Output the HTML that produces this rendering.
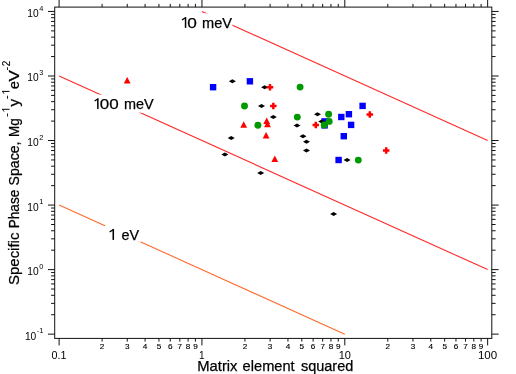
<!DOCTYPE html>
<html><head><meta charset="utf-8"><title>Specific Phase Space vs Matrix element squared</title>
<style>html,body{margin:0;padding:0;background:#fff}body{width:516px;height:374px;overflow:hidden}</style></head>
<body>
<svg width="516" height="374" viewBox="0 0 516 374" style="display:block;font-family:'Liberation Sans',sans-serif;will-change:transform">
<rect width="516" height="374" fill="#fff"/>
<g id="curves">
<line x1="201.95" y1="11.45" x2="487.65" y2="140.53" stroke="#ff2a2a" stroke-width="1.1"/>
<line x1="59.10" y1="75.99" x2="487.65" y2="269.61" stroke="#ff2a2a" stroke-width="1.1"/>
<line x1="59.10" y1="205.07" x2="344.80" y2="334.15" stroke="#ff6a2a" stroke-width="1.1"/>
</g>
<g id="masks" fill="#fff">
<rect x="178" y="13.3" width="54.4" height="18.7"/>
<rect x="91" y="94.6" width="65" height="18.1"/>
<rect x="105" y="225.4" width="36" height="16.4"/>
</g>
<g id="axes" stroke="#111" stroke-width="1" fill="none">
<rect x="54.7" y="7.1" width="437.10" height="331.30"/>
<path d="M59.10 338.4V345.4M59.10 7.1V0M102.10 338.4V341.59999999999997M102.10 7.1V3.8999999999999995M127.26 338.4V341.59999999999997M127.26 7.1V3.8999999999999995M145.10 338.4V341.59999999999997M145.10 7.1V3.8999999999999995M158.95 338.4V341.59999999999997M158.95 7.1V3.8999999999999995M170.26 338.4V341.59999999999997M170.26 7.1V3.8999999999999995M179.82 338.4V341.59999999999997M179.82 7.1V3.8999999999999995M188.11 338.4V341.59999999999997M188.11 7.1V3.8999999999999995M195.41 338.4V341.59999999999997M195.41 7.1V3.8999999999999995M201.95 338.4V345.4M201.95 7.1V0M244.95 338.4V341.59999999999997M244.95 7.1V3.8999999999999995M270.11 338.4V341.59999999999997M270.11 7.1V3.8999999999999995M287.95 338.4V341.59999999999997M287.95 7.1V3.8999999999999995M301.80 338.4V341.59999999999997M301.80 7.1V3.8999999999999995M313.11 338.4V341.59999999999997M313.11 7.1V3.8999999999999995M322.67 338.4V341.59999999999997M322.67 7.1V3.8999999999999995M330.96 338.4V341.59999999999997M330.96 7.1V3.8999999999999995M338.26 338.4V341.59999999999997M338.26 7.1V3.8999999999999995M344.80 338.4V345.4M344.80 7.1V0M387.80 338.4V341.59999999999997M387.80 7.1V3.8999999999999995M412.96 338.4V341.59999999999997M412.96 7.1V3.8999999999999995M430.80 338.4V341.59999999999997M430.80 7.1V3.8999999999999995M444.65 338.4V341.59999999999997M444.65 7.1V3.8999999999999995M455.96 338.4V341.59999999999997M455.96 7.1V3.8999999999999995M465.52 338.4V341.59999999999997M465.52 7.1V3.8999999999999995M473.81 338.4V341.59999999999997M473.81 7.1V3.8999999999999995M481.11 338.4V341.59999999999997M481.11 7.1V3.8999999999999995M487.65 338.4V345.4M487.65 7.1V0M54.7 334.15H48.0M491.8 334.15H498.6M54.7 314.72H51.1M491.8 314.72H495.6M54.7 303.36H51.1M491.8 303.36H495.6M54.7 295.29H51.1M491.8 295.29H495.6M54.7 289.04H51.1M491.8 289.04H495.6M54.7 283.93H51.1M491.8 283.93H495.6M54.7 279.61H51.1M491.8 279.61H495.6M54.7 275.86H51.1M491.8 275.86H495.6M54.7 272.56H51.1M491.8 272.56H495.6M54.7 269.61H48.0M491.8 269.61H498.6M54.7 250.18H51.1M491.8 250.18H495.6M54.7 238.82H51.1M491.8 238.82H495.6M54.7 230.75H51.1M491.8 230.75H495.6M54.7 224.50H51.1M491.8 224.50H495.6M54.7 219.39H51.1M491.8 219.39H495.6M54.7 215.07H51.1M491.8 215.07H495.6M54.7 211.32H51.1M491.8 211.32H495.6M54.7 208.02H51.1M491.8 208.02H495.6M54.7 205.07H48.0M491.8 205.07H498.6M54.7 185.64H51.1M491.8 185.64H495.6M54.7 174.28H51.1M491.8 174.28H495.6M54.7 166.21H51.1M491.8 166.21H495.6M54.7 159.96H51.1M491.8 159.96H495.6M54.7 154.85H51.1M491.8 154.85H495.6M54.7 150.53H51.1M491.8 150.53H495.6M54.7 146.78H51.1M491.8 146.78H495.6M54.7 143.48H51.1M491.8 143.48H495.6M54.7 140.53H48.0M491.8 140.53H498.6M54.7 121.10H51.1M491.8 121.10H495.6M54.7 109.74H51.1M491.8 109.74H495.6M54.7 101.67H51.1M491.8 101.67H495.6M54.7 95.42H51.1M491.8 95.42H495.6M54.7 90.31H51.1M491.8 90.31H495.6M54.7 85.99H51.1M491.8 85.99H495.6M54.7 82.24H51.1M491.8 82.24H495.6M54.7 78.94H51.1M491.8 78.94H495.6M54.7 75.99H48.0M491.8 75.99H498.6M54.7 56.56H51.1M491.8 56.56H495.6M54.7 45.20H51.1M491.8 45.20H495.6M54.7 37.13H51.1M491.8 37.13H495.6M54.7 30.88H51.1M491.8 30.88H495.6M54.7 25.77H51.1M491.8 25.77H495.6M54.7 21.45H51.1M491.8 21.45H495.6M54.7 17.70H51.1M491.8 17.70H495.6M54.7 14.40H51.1M491.8 14.40H495.6M54.7 11.45H48.0M491.8 11.45H498.6"/>
</g>
<g id="xlabels" fill="#000" text-anchor="middle">
<text x="51.5" y="358.5" font-size="10" text-anchor="start" textLength="14.9" lengthAdjust="spacingAndGlyphs">0.1</text>
<text x="201.8" y="358.5" font-size="10">1</text>
<text x="338.7" y="358.5" font-size="10" text-anchor="start" textLength="12.24" lengthAdjust="spacingAndGlyphs">10</text>
<text x="477.9" y="358.5" font-size="10" text-anchor="start" textLength="19.3" lengthAdjust="spacingAndGlyphs">100</text>
<text transform="translate(102.10 348.9) scale(1.24 1)" font-size="6.6" stroke="#000" stroke-width="0.12">2</text>
<text transform="translate(127.26 348.9) scale(1.24 1)" font-size="6.6" stroke="#000" stroke-width="0.12">3</text>
<text transform="translate(145.10 348.9) scale(1.24 1)" font-size="6.6" stroke="#000" stroke-width="0.12">4</text>
<text transform="translate(158.95 348.9) scale(1.24 1)" font-size="6.6" stroke="#000" stroke-width="0.12">5</text>
<text transform="translate(170.26 348.9) scale(1.24 1)" font-size="6.6" stroke="#000" stroke-width="0.12">6</text>
<text transform="translate(179.82 348.9) scale(1.24 1)" font-size="6.6" stroke="#000" stroke-width="0.12">7</text>
<text transform="translate(188.11 348.9) scale(1.24 1)" font-size="6.6" stroke="#000" stroke-width="0.12">8</text>
<text transform="translate(195.41 348.9) scale(1.24 1)" font-size="6.6" stroke="#000" stroke-width="0.12">9</text>
<text transform="translate(244.95 348.9) scale(1.24 1)" font-size="6.6" stroke="#000" stroke-width="0.12">2</text>
<text transform="translate(270.11 348.9) scale(1.24 1)" font-size="6.6" stroke="#000" stroke-width="0.12">3</text>
<text transform="translate(287.95 348.9) scale(1.24 1)" font-size="6.6" stroke="#000" stroke-width="0.12">4</text>
<text transform="translate(301.80 348.9) scale(1.24 1)" font-size="6.6" stroke="#000" stroke-width="0.12">5</text>
<text transform="translate(313.11 348.9) scale(1.24 1)" font-size="6.6" stroke="#000" stroke-width="0.12">6</text>
<text transform="translate(322.67 348.9) scale(1.24 1)" font-size="6.6" stroke="#000" stroke-width="0.12">7</text>
<text transform="translate(330.96 348.9) scale(1.24 1)" font-size="6.6" stroke="#000" stroke-width="0.12">8</text>
<text transform="translate(338.26 348.9) scale(1.24 1)" font-size="6.6" stroke="#000" stroke-width="0.12">9</text>
<text transform="translate(387.80 348.9) scale(1.24 1)" font-size="6.6" stroke="#000" stroke-width="0.12">2</text>
<text transform="translate(412.96 348.9) scale(1.24 1)" font-size="6.6" stroke="#000" stroke-width="0.12">3</text>
<text transform="translate(430.80 348.9) scale(1.24 1)" font-size="6.6" stroke="#000" stroke-width="0.12">4</text>
<text transform="translate(444.65 348.9) scale(1.24 1)" font-size="6.6" stroke="#000" stroke-width="0.12">5</text>
<text transform="translate(455.96 348.9) scale(1.24 1)" font-size="6.6" stroke="#000" stroke-width="0.12">6</text>
<text transform="translate(465.52 348.9) scale(1.24 1)" font-size="6.6" stroke="#000" stroke-width="0.12">7</text>
<text transform="translate(473.81 348.9) scale(1.24 1)" font-size="6.6" stroke="#000" stroke-width="0.12">8</text>
<text transform="translate(481.11 348.9) scale(1.24 1)" font-size="6.6" stroke="#000" stroke-width="0.12">9</text>
</g>
<g id="ylabels" fill="#000">
<text x="43.3" y="339.65" font-size="10.2" text-anchor="end">10<tspan dy="-6.4" font-size="7.4" dx="0.5">-1</tspan></text>
<text x="43.3" y="275.11" font-size="10.2" text-anchor="end">10<tspan dy="-6.4" font-size="7.4" dx="0.5">0</tspan></text>
<text x="43.3" y="210.57" font-size="10.2" text-anchor="end">10<tspan dy="-6.4" font-size="7.4" dx="0.5">1</tspan></text>
<text x="43.3" y="146.03" font-size="10.2" text-anchor="end">10<tspan dy="-6.4" font-size="7.4" dx="0.5">2</tspan></text>
<text x="43.3" y="81.49" font-size="10.2" text-anchor="end">10<tspan dy="-6.4" font-size="7.4" dx="0.5">3</tspan></text>
<text x="43.3" y="16.95" font-size="10.2" text-anchor="end">10<tspan dy="-6.4" font-size="7.4" dx="0.5">4</tspan></text>
</g>
<g id="sq" fill="#00f">
<rect x="209.9" y="84.0" width="6.4" height="6.4"/>
<rect x="246.7" y="78.1" width="6.4" height="6.4"/>
<rect x="321.4" y="118.2" width="6.4" height="6.4"/>
<rect x="321.4" y="122.2" width="6.4" height="6.4"/>
<rect x="338.1" y="113.8" width="6.4" height="6.4"/>
<rect x="345.7" y="111.0" width="6.4" height="6.4"/>
<rect x="347.9" y="121.7" width="6.4" height="6.4"/>
<rect x="359.4" y="102.7" width="6.4" height="6.4"/>
<rect x="340.6" y="133.0" width="6.4" height="6.4"/>
<rect x="335.4" y="156.8" width="6.4" height="6.4"/>
</g><g id="dia" fill="#000">
<path d="M228.9 81.3L232.4 79.3L235.9 81.3L232.4 83.3Z"/>
<path d="M261.1 87.2L264.6 85.2L268.1 87.2L264.6 89.2Z"/>
<path d="M258.0 106.0L261.5 104.0L265.0 106.0L261.5 108.0Z"/>
<path d="M269.8 117.1L273.3 115.1L276.8 117.1L273.3 119.1Z"/>
<path d="M227.7 138.1L231.2 136.1L234.7 138.1L231.2 140.1Z"/>
<path d="M221.4 154.4L224.9 152.4L228.4 154.4L224.9 156.4Z"/>
<path d="M257.2 173.1L260.7 171.1L264.2 173.1L260.7 175.1Z"/>
<path d="M293.5 125.4L297.0 123.4L300.5 125.4L297.0 127.4Z"/>
<path d="M314.0 114.2L317.5 112.2L321.0 114.2L317.5 116.2Z"/>
<path d="M318.2 121.4L321.7 119.4L325.2 121.4L321.7 123.4Z"/>
<path d="M299.5 136.3L303.0 134.3L306.5 136.3L303.0 138.3Z"/>
<path d="M303.0 141.8L306.5 139.8L310.0 141.8L306.5 143.8Z"/>
<path d="M303.0 150.6L306.5 148.6L310.0 150.6L306.5 152.6Z"/>
<path d="M343.6 160.1L347.1 158.1L350.6 160.1L347.1 162.1Z"/>
<path d="M330.1 213.9L333.6 211.9L337.1 213.9L333.6 215.9Z"/>
</g><g id="tri" fill="#f00">
<path d="M127.2 77.0L130.6 83.6H123.8Z"/>
<path d="M243.7 121.2L247.1 127.8H240.3Z"/>
<path d="M266.7 117.4L270.1 124.0H263.3Z"/>
<path d="M267.5 120.6L270.9 127.2H264.1Z"/>
<path d="M266.1 132.0L269.5 138.6H262.7Z"/>
<path d="M274.8 155.5L278.2 162.1H271.4Z"/>
</g><g id="plus" fill="#f00">
<path d="M268.75 83.95h2.5v2h2v2.5h-2v2h-2.5v-2h-2v-2.5h2z"/>
<path d="M272.05 102.75h2.5v2h2v2.5h-2v2h-2.5v-2h-2v-2.5h2z"/>
<path d="M314.55 121.65h2.5v2h2v2.5h-2v2h-2.5v-2h-2v-2.5h2z"/>
<path d="M368.55 111.15h2.5v2h2v2.5h-2v2h-2.5v-2h-2v-2.5h2z"/>
<path d="M384.95 147.25h2.5v2h2v2.5h-2v2h-2.5v-2h-2v-2.5h2z"/>
</g><g id="circ" fill="#090">
<circle cx="244.5" cy="106.0" r="3.45"/>
<circle cx="257.9" cy="125.3" r="3.45"/>
<circle cx="300.1" cy="87.1" r="3.45"/>
<circle cx="297.3" cy="117.1" r="3.45"/>
<circle cx="328.6" cy="114.2" r="3.45"/>
<circle cx="329.2" cy="121.4" r="3.45"/>
<circle cx="324.2" cy="125.0" r="3.45"/>
<circle cx="358.3" cy="160.1" r="3.45"/>
</g>
<g id="clabels" fill="#000" font-size="15" stroke="#000" stroke-width="0.25">
<path d="M185.55 27.90V17.10" stroke="#000" stroke-width="1.5" fill="none"/><path d="M185.55 17.77L182.00 19.91" stroke="#000" stroke-width="1.27" fill="none"/>
<text x="187.30" y="27.9" textLength="9.60" lengthAdjust="spacingAndGlyphs">0</text>
<text x="202.00" y="27.9" textLength="30.00" lengthAdjust="spacingAndGlyphs">meV</text>
<path d="M97.85 109.05V98.25" stroke="#000" stroke-width="1.5" fill="none"/><path d="M97.85 98.92L94.60 101.06" stroke="#000" stroke-width="1.27" fill="none"/>
<text x="99.70" y="109.05" textLength="18.90" lengthAdjust="spacingAndGlyphs">00</text>
<text x="124.00" y="109.05" textLength="29.70" lengthAdjust="spacingAndGlyphs">meV</text>
<path d="M113.27 239.90V229.00" stroke="#000" stroke-width="1.55" fill="none"/><path d="M113.27 229.70L109.70 231.83" stroke="#000" stroke-width="1.32" fill="none"/>
<text x="121.50" y="239.9" textLength="17.60" lengthAdjust="spacingAndGlyphs">eV</text>
</g>
<g id="xl" fill="#000" font-size="15.2" stroke="#000" stroke-width="0.25">
<text x="197.30" y="370.6" textLength="40.20" lengthAdjust="spacingAndGlyphs">Matrix</text>
<text x="242.60" y="370.6" textLength="52.10" lengthAdjust="spacingAndGlyphs">element</text>
<text x="300.90" y="370.6" textLength="52.40" lengthAdjust="spacingAndGlyphs">squared</text>
</g>
<g id="yl" fill="#000" stroke="#000" stroke-width="0.25">
<text transform="translate(19.3 285.0) rotate(-90)" font-size="15.4" textLength="52.4" lengthAdjust="spacingAndGlyphs">Specific</text>
<text transform="translate(19.3 228.2) rotate(-90)" font-size="15.4" textLength="38.4" lengthAdjust="spacingAndGlyphs">Phase</text>
<text transform="translate(19.3 185.4) rotate(-90)" font-size="15.4" textLength="43.8" lengthAdjust="spacingAndGlyphs">Space,</text>
<text transform="translate(19.3 136.9) rotate(-90)" font-size="15.4" textLength="18.7" lengthAdjust="spacingAndGlyphs">Mg</text>
<text transform="translate(19.3 106.4) rotate(-90)" font-size="15.4" textLength="7.6" lengthAdjust="spacingAndGlyphs">y</text>
<text transform="translate(19.3 88.9) rotate(-90)" font-size="15.4" textLength="7.8" lengthAdjust="spacingAndGlyphs">e</text>
<text transform="translate(19.3 81.4) rotate(-90)" font-size="15.4" textLength="11.3" lengthAdjust="spacingAndGlyphs">V</text>
</g>
<g id="ysup" fill="#000" stroke="#000" stroke-width="0.1">
<text transform="translate(9.6 116.96) rotate(-90)" font-size="10.4" textLength="4.0" lengthAdjust="spacingAndGlyphs">-</text>
<path d="M9.50 109.30H2.10" stroke="#000" stroke-width="1.0" fill="none"/><path d="M2.55 109.30L4.02 111.60" stroke="#000" stroke-width="0.85" fill="none"/>
<text transform="translate(9.6 99.16) rotate(-90)" font-size="10.4" textLength="4.0" lengthAdjust="spacingAndGlyphs">-</text>
<path d="M9.50 91.40H2.10" stroke="#000" stroke-width="1.0" fill="none"/><path d="M2.55 91.40L4.02 93.80" stroke="#000" stroke-width="0.85" fill="none"/>
<text transform="translate(9.8 70.43) rotate(-90)" font-size="10.4" textLength="3.7" lengthAdjust="spacingAndGlyphs">-</text>
<text transform="translate(9.8 66.3) rotate(-90)" font-size="10.4" textLength="5.5" lengthAdjust="spacingAndGlyphs">2</text>
</g>
</svg>
</body></html>
